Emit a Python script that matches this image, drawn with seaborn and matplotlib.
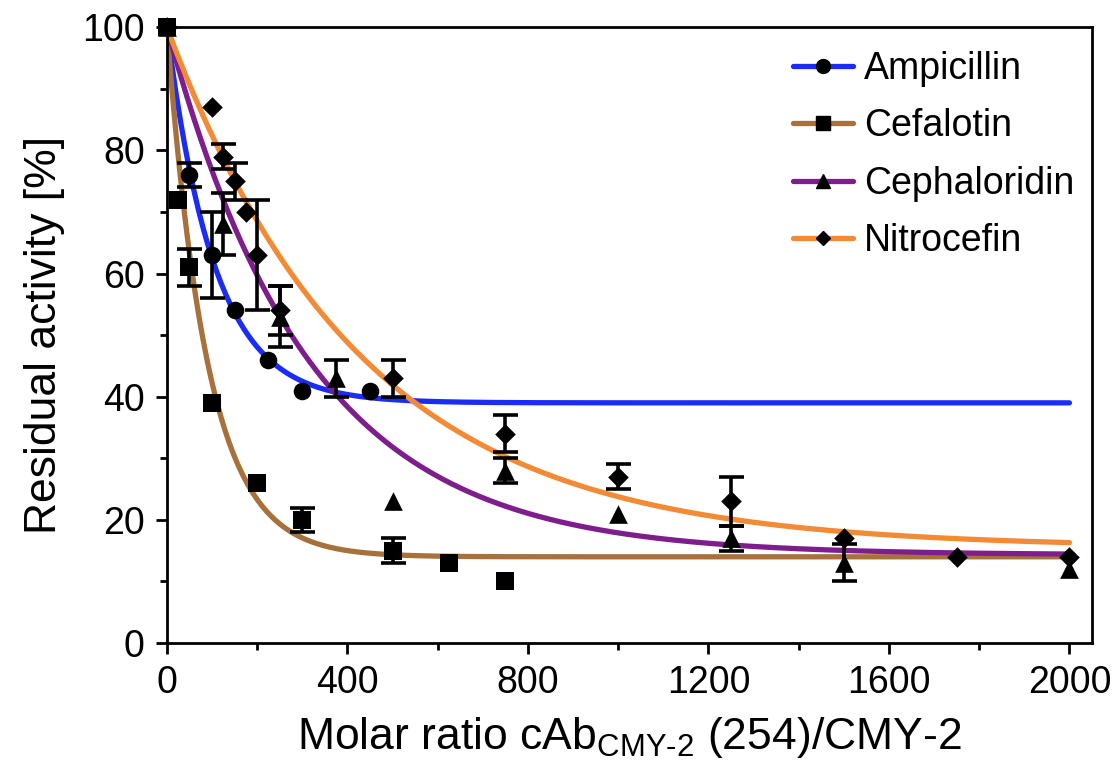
import numpy as np
import pandas as pd
import seaborn as sns
import matplotlib.pyplot as plt
from matplotlib.lines import Line2D
from matplotlib.ticker import MultipleLocator

# Font sizes
LBF = 32    # axis label
TS = 27     # tick labels
LGF = 27    # legend
lw1 = 3.8   # fit curves

# ----------------------------------------------------------------------------
# Data (x = molar ratio, y = residual activity [%])
amp_x = [0, 50, 100, 150, 225, 300, 450]
amp_y = [100, 76, 63, 54, 46, 41, 41]
amp_err = [0, 2, 7, 0, 0, 0, 0]

cef_x = [0, 25, 50, 100, 200, 300, 500, 625, 750]
cef_y = [100, 72, 61, 39, 26, 20, 15, 13, 10]
cef_err = [0, 0, 3, 0, 0, 2, 2, 0, 0]

cep_x = [0, 125, 250, 375, 500, 750, 1000, 1250, 1500, 2000]
cep_y = [100, 68, 53, 43, 23, 28, 21, 17, 13, 12]
cep_err = [0, 5, 5, 3, 0, 2, 0, 2, 3, 0]

nit_x = [0, 100, 125, 150, 175, 200, 250, 500, 750, 1000, 1250, 1500, 1750, 2000]
nit_y = [100, 87, 79, 75, 70, 63, 54, 43, 34, 27, 23, 17, 14, 14]
nit_err = [0, 0, 2, 3, 0, 9, 4, 3, 3, 2, 4, 0, 0, 0]

# one-phase decay fits: y = plateau + span * exp(-x / tau)
fit_plateau = [39, 14, 14.3, 15.5]
fit_span = [61, 86, 85.7, 84.5]
fit_tau = [105, 90, 315, 430]

drugs = ['Ampicillin', 'Cefalotin', 'Cephaloridin', 'Nitrocefin']
colors = ['#1a2cf5', '#a8703a', '#7e1e8c', '#f38a35']
markers = ['o', 's', '^', 'D']
msizes = [160, 180, 180, 110]

series = [(amp_x, amp_y, amp_err), (cef_x, cef_y, cef_err),
          (cep_x, cep_y, cep_err), (nit_x, nit_y, nit_err)]

# ----------------------------------------------------------------------------
sns.set_style('ticks')
plt.rcParams['font.family'] = ['Liberation Sans', 'DejaVu Sans']
plt.rcParams['mathtext.fontset'] = 'custom'
plt.rcParams['mathtext.rm'] = 'Liberation Sans'
plt.rcParams['mathtext.it'] = 'Liberation Sans:italic'
plt.rcParams['text.color'] = 'black'
plt.rcParams['axes.labelcolor'] = 'black'

fig = plt.figure(figsize=(11.2, 7.78), dpi=100)
ax = fig.add_axes([0.149, 0.1735, 0.826, 0.7915])

# fit curves
xfit = np.linspace(0, 2000, 400)
curves = []
for i, d in enumerate(drugs):
    yfit = fit_plateau[i] + fit_span[i] * np.exp(-xfit / fit_tau[i])
    curves.append(pd.DataFrame({'x': xfit, 'y': yfit, 'Drug': d}))
curves = pd.concat(curves)
sns.lineplot(data=curves, x='x', y='y', hue='Drug', palette=colors,
             linewidth=lw1, legend=False, ax=ax, zorder=2)

# data points with error bars (Nitrocefin first, Cefalotin on top)
for i in [3, 2, 0, 1]:
    x, y, e = series[i]
    pts = pd.DataFrame({'x': x, 'y': y, 'err': e})
    bars = pts[pts.err > 0]
    ax.errorbar(bars.x, bars.y, yerr=bars.err, fmt='none', ecolor='black',
                elinewidth=2.6, capsize=9, capthick=2.6, zorder=3)
    sns.scatterplot(data=pts, x='x', y='y', marker=markers[i], s=msizes[i],
                    color='black', edgecolor='black', linewidth=0,
                    ax=ax, zorder=4, clip_on=False)

# axes
ax.set_xlim(0, 2050)
ax.set_ylim(0, 100)
ax.xaxis.set_major_locator(MultipleLocator(400))
ax.xaxis.set_minor_locator(MultipleLocator(200))
ax.yaxis.set_major_locator(MultipleLocator(20))
ax.yaxis.set_minor_locator(MultipleLocator(10))
ax.tick_params(which='major', length=8, width=2, labelsize=TS, pad=8,
               color='black', labelcolor='black')
ax.tick_params(which='minor', length=5, width=2, color='black')
for sp in ax.spines.values():
    sp.set_visible(True)
    sp.set_linewidth(2)
    sp.set_color('black')

ax.set_xlabel(r'Molar ratio cAb$_{\text{CMY-2}}$ (254)/CMY-2', fontsize=LBF, labelpad=10)
ax.set_ylabel('Residual activity [%]', fontsize=LBF, labelpad=12)

# legend: coloured line with black marker
handles = [Line2D([0], [0], color=colors[i], lw=lw1, marker=markers[i],
                  markersize=[10, 10, 10, 7.5][i], markerfacecolor='black',
                  markeredgecolor='black') for i in range(4)]
ax.legend(handles, drugs, loc='upper right', bbox_to_anchor=(1.005, 0.998),
          frameon=False, fontsize=LGF, handlelength=1.6, handletextpad=0.3,
          labelspacing=0.57, borderaxespad=0.2)

fig.savefig('out.png', dpi=100)
